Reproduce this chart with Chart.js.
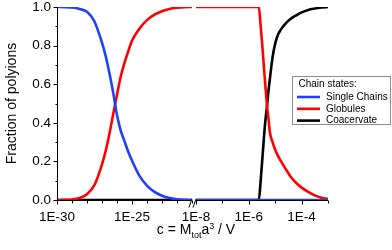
<!DOCTYPE html>
<html><head><meta charset="utf-8">
<script src="https://cdn.jsdelivr.net/npm/chart.js@4/dist/chart.umd.min.js"></script>
<style>html,body{margin:0;padding:0;background:#fff;}canvas{display:block;}</style>
</head><body>
<canvas id="c" width="392" height="250"></canvas>
<script>
// ---------- data ----------
const seriesNames = ['Single Chains', 'Globules', 'Coacervate'];
const seriesColors = ['#2040ff', '#ff0000', '#000000'];

// left panel: log10(c) from 1E-30 to 1E-21
const leftLogC       = [-30, -29.5, -29, -28.5, -28, -27.5, -27, -26.75, -26.5, -26.25, -26, -25.75, -25.5, -25.25, -25, -24.5, -24, -23.5, -23, -22.5, -22, -21.5, -21];
const leftSingle     = [1.000, 0.999, 0.997, 0.990, 0.975, 0.925, 0.815, 0.745, 0.655, 0.555, 0.440, 0.360, 0.305, 0.250, 0.205, 0.125, 0.075, 0.042, 0.022, 0.010, 0.004, 0.001, 0.000];
const leftGlobules   = [0.000, 0.001, 0.003, 0.010, 0.030, 0.078, 0.185, 0.255, 0.345, 0.445, 0.545, 0.640, 0.710, 0.770, 0.825, 0.888, 0.932, 0.960, 0.978, 0.990, 0.996, 0.999, 1.000];
const leftCoacervate = [0, 0, 0, 0, 0, 0, 0, 0, 0, 0, 0, 0, 0, 0, 0, 0, 0, 0, 0, 0, 0, 0, 0];

// right panel: log10(c) from 1E-8 to 1E-3
const rightLogC       = [-8, -6, -5.62, -5.55, -5.5, -5.45, -5.4, -5.35, -5.3, -5.25, -5.2, -5.1, -5.0, -4.9, -4.8, -4.6, -4.4, -4.2, -4.0, -3.75, -3.5, -3.25, -3.0];
const rightSingle     = [0, 0, 0, 0, 0, 0, 0, 0, 0, 0, 0, 0, 0, 0, 0, 0, 0, 0, 0, 0, 0, 0, 0];
const rightGlobules   = [1, 1, 1, 0.90, 0.82, 0.73, 0.64, 0.555, 0.475, 0.415, 0.350, 0.300, 0.260, 0.230, 0.205, 0.160, 0.118, 0.088, 0.064, 0.042, 0.024, 0.012, 0.005];
const rightCoacervate = [0, 0, 0, 0.10, 0.19, 0.28, 0.37, 0.44, 0.50, 0.57, 0.63, 0.74, 0.81, 0.855, 0.880, 0.915, 0.940, 0.957, 0.972, 0.985, 0.992, 0.997, 1.000];

// ticks
const yTickValues = [0, 0.1, 0.2, 0.3, 0.4, 0.5, 0.6, 0.7, 0.8, 0.9, 1.0];
const yTickLabels = ['0.0', '', '0.2', '', '0.4', '', '0.6', '', '0.8', '', '1.0'];
const leftTickExps = [-30, -29, -28, -27, -26, -25, -24, -23, -22, -21];
const leftLabelExps = [-30, -25];
const rightTickExps = [-8, -7, -6, -5, -4, -3];
const rightLabelExps = [-8, -6, -4];

const yTitle = 'Fraction of polyions';
const legendTitle = 'Chain states:';
const xTitleParts = [['c = M', 'n'], ['tot', 'sub'], ['a', 'n'], ['3', 'sup'], [' / V', 'n']];

// ---------- chart ----------
const FONT = "'Liberation Sans', Arial, Helvetica, sans-serif";
const LEFT_MAX_EXP = -20.73;

function pts(xs, ys) { return xs.map((e, i) => ({x: Math.pow(10, e), y: ys[i]})); }
function ds(label, color, xs, ys, axis) {
  return {label, data: pts(xs, ys), xAxisID: axis, yAxisID: 'y', borderColor: color,
    backgroundColor: color, borderWidth: 2.6, pointRadius: 0, fill: false,
    cubicInterpolationMode: 'monotone', borderCapStyle: 'butt'};
}

const datasets = [
  ds(seriesNames[0], seriesColors[0], leftLogC, leftSingle, 'x1'),
  ds(seriesNames[0], seriesColors[0], rightLogC, rightSingle, 'x2'),
  ds(seriesNames[1], seriesColors[1], leftLogC, leftGlobules, 'x1'),
  ds(seriesNames[1], seriesColors[1], rightLogC, rightGlobules, 'x2'),
  ds(seriesNames[2], seriesColors[2], leftLogC, leftCoacervate, 'x1'),
  ds(seriesNames[2], seriesColors[2], rightLogC, rightCoacervate, 'x2'),
];

function zeroPad(scale) {
  scale.paddingLeft = 0; scale.paddingRight = 0; scale.paddingTop = 0; scale.paddingBottom = 0;
}

function xAxis(minExp, maxExp, tickExps, labelExps, weight) {
  return {
    type: 'logarithmic', position: 'bottom', stack: 'xs', stackWeight: weight, weight: 0,
    min: Math.pow(10, minExp), max: Math.pow(10, maxExp),
    grid: {display: false, drawTicks: true, tickLength: 4},
    border: {display: false},
    ticks: {
      autoSkip: false, maxRotation: 0, minRotation: 0, padding: 5, color: '#000',
      font: {family: FONT, size: 13.5},
      callback: (v) => {
        const e = Math.round(Math.log10(v));
        return labelExps.includes(e) ? '1E' + e : '';
      }
    },
    afterBuildTicks: (s) => { s.ticks = tickExps.map(e => ({value: Math.pow(10, e)})); },
    afterFit: (s) => { s.height = 50; zeroPad(s); }
  };
}

const decor = {
  id: 'decor',
  afterDraw(chart) {
    const ctx = chart.ctx, a = chart.chartArea;
    const x1 = chart.scales.x1, x2 = chart.scales.x2, y = chart.scales.y;
    ctx.save();
    ctx.strokeStyle = '#000';
    ctx.lineWidth = 1;
    const ax = Math.round(a.left) + 0.5;
    const ay = Math.round(a.bottom) + 0.5;
    const gapL = x1.getPixelForValue(Math.pow(10, leftTickExps[leftTickExps.length - 1]));
    const gapR = x2.getPixelForValue(Math.pow(10, rightTickExps[0]));
    // axis lines
    ctx.beginPath();
    ctx.moveTo(ax, a.top); ctx.lineTo(ax, ay);
    ctx.moveTo(ax, ay); ctx.lineTo(gapL - 1, ay);
    ctx.moveTo(gapR, ay); ctx.lineTo(x2.right, ay);
    ctx.stroke();
    // y ticks
    ctx.beginPath();
    yTickValues.forEach((v, i) => {
      const p = Math.round(y.getPixelForValue(v)) + 0.5;
      const len = yTickLabels[i] ? 4 : 2;
      ctx.moveTo(ax - len, p); ctx.lineTo(ax, p);
    });
    // x ticks
    [[x1, leftTickExps, leftLabelExps], [x2, rightTickExps, rightLabelExps]].forEach(([s, exps, labs]) => {
      exps.forEach(e => {
        const p = Math.round(s.getPixelForValue(Math.pow(10, e))) + 0.5;
        const len = labs.includes(e) ? 4 : 3;
        ctx.moveTo(p, ay); ctx.lineTo(p, ay + len);
      });
    });
    ctx.stroke();
    // break marks
    ctx.beginPath();
    ctx.moveTo(gapL - 3, ay + 7); ctx.lineTo(gapL, ay - 1.5);
    ctx.moveTo(gapR - 3, ay + 7); ctx.lineTo(gapR, ay - 1.5);
    ctx.stroke();

    // x title
    const cx = (a.left + a.right) / 2 + 3.5;
    const base = 234;
    const fMain = '14px ' + FONT, fSmall = '9px ' + FONT;
    let total = 0;
    xTitleParts.forEach(([t, k]) => { ctx.font = k === 'n' ? fMain : fSmall; total += ctx.measureText(t).width; });
    let x = cx - total / 2;
    ctx.fillStyle = '#000';
    ctx.textBaseline = 'alphabetic';
    ctx.textAlign = 'left';
    xTitleParts.forEach(([t, k]) => {
      ctx.font = k === 'n' ? fMain : fSmall;
      const dy = k === 'sub' ? 4 : (k === 'sup' ? -5.5 : 0);
      ctx.fillText(t, x, base + dy);
      x += ctx.measureText(t).width;
    });

    // legend
    const L = {x: 292, y: 76, w: 99, h: 49};
    ctx.fillStyle = '#fff';
    ctx.fillRect(L.x, L.y, L.w, L.h);
    ctx.strokeStyle = '#8c8c8c';
    ctx.lineWidth = 1;
    ctx.strokeRect(L.x + 0.5, L.y + 0.5, L.w - 1, L.h - 1);
    ctx.font = '10px ' + FONT;
    ctx.fillStyle = '#000';
    ctx.textBaseline = 'middle';
    ctx.fillText(legendTitle, L.x + 6.5, L.y + 8.5);
    seriesNames.forEach((n, i) => {
      const yy = L.y + 21 + i * 11.8;
      ctx.strokeStyle = seriesColors[i];
      ctx.lineWidth = 2.6;
      ctx.beginPath(); ctx.moveTo(L.x + 5, yy); ctx.lineTo(L.x + 28, yy); ctx.stroke();
      ctx.fillStyle = '#000';
      ctx.fillText(n, L.x + 34, yy);
    });
    ctx.restore();
  }
};

new Chart(document.getElementById('c'), {
  type: 'line',
  data: {datasets},
  options: {
    responsive: false, animation: false, devicePixelRatio: 1,
    layout: {padding: {left: 0, right: 64, top: 7, bottom: 0}},
    plugins: {legend: {display: false}, tooltip: {enabled: false}, title: {display: false}},
    scales: {
      x1: xAxis(leftTickExps[0], LEFT_MAX_EXP, leftTickExps, leftLabelExps, 139),
      x2: xAxis(rightTickExps[0], rightTickExps[rightTickExps.length - 1], rightTickExps, rightLabelExps, 132),
      y: {
        type: 'linear', position: 'left', min: 0, max: 1,
        grid: {display: false, drawTicks: true, tickLength: 4},
        border: {display: false},
        title: {display: true, text: yTitle, color: '#000', font: {family: FONT, size: 14}, padding: {top: 4, bottom: 0}},
        ticks: {
          padding: 2, color: '#000', autoSkip: false, font: {family: FONT, size: 13.5},
          callback: (v) => {
            const i = yTickValues.findIndex(t => Math.abs(t - v) < 1e-9);
            return i >= 0 ? yTickLabels[i] : '';
          }
        },
        afterBuildTicks: (s) => { s.ticks = yTickValues.map(v => ({value: v})); },
        afterFit: (s) => { s.width = 57; zeroPad(s); }
      }
    }
  },
  plugins: [decor]
});
</script>
</body></html>
